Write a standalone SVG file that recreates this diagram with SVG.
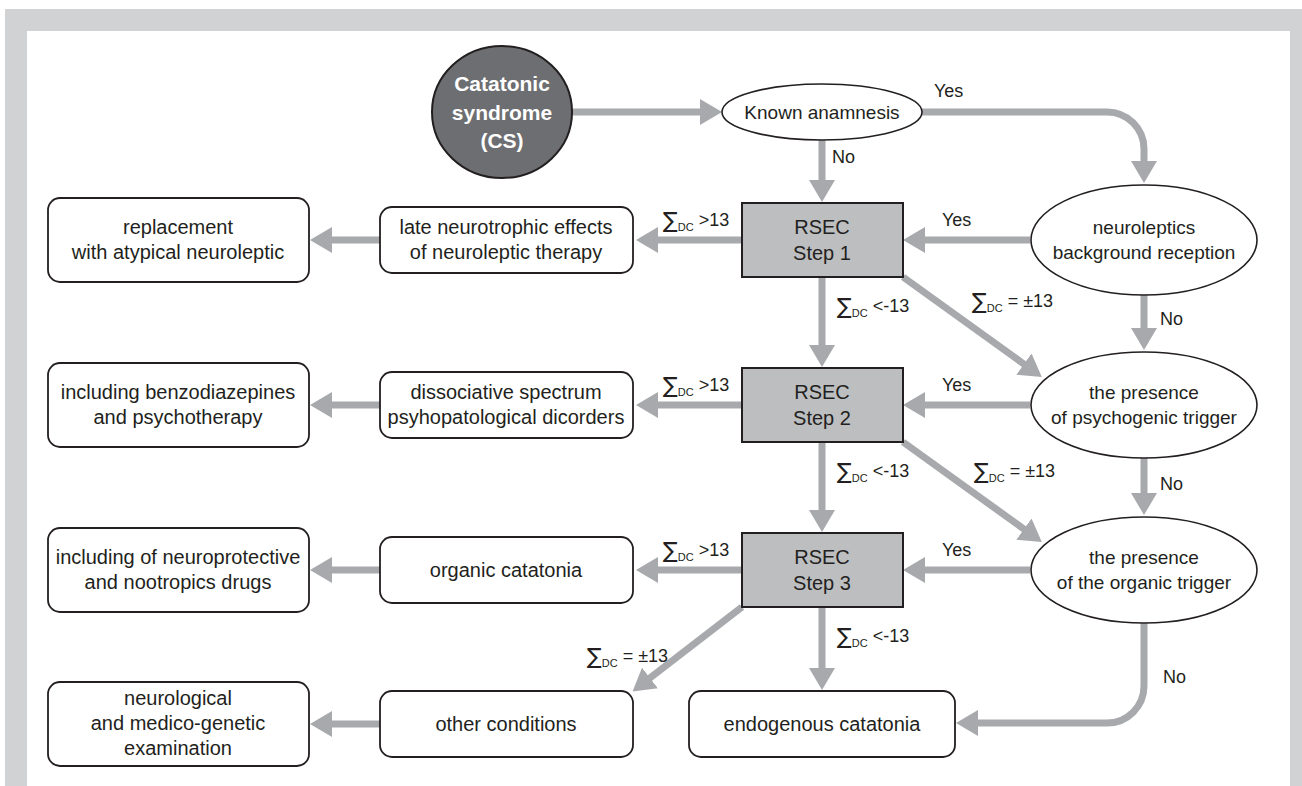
<svg xmlns="http://www.w3.org/2000/svg" width="1302" height="786" viewBox="0 0 1302 786">
<defs>
<style>
.frame{fill:#d1d2d4}
.box{fill:#fff;stroke:#231f20;stroke-width:1.8}
.rsec{fill:#bcbec0;stroke:#231f20;stroke-width:2}
.ell{fill:#fff;stroke:#231f20;stroke-width:1.6}
.cs{fill:#6d6e71;stroke:#231f20;stroke-width:2}
.t{font-family:"Liberation Sans",Arial,sans-serif;font-size:20px;fill:#231f20;text-anchor:middle}
.e{font-family:"Liberation Sans",Arial,sans-serif;font-size:19px;fill:#231f20;text-anchor:middle}
.r{font-family:"Liberation Sans",Arial,sans-serif;font-size:20px;fill:#231f20;text-anchor:middle}
.w{font-family:"Liberation Sans",Arial,sans-serif;font-size:21px;font-weight:bold;fill:#fff;text-anchor:middle}
.l{font-family:"Liberation Sans",Arial,sans-serif;font-size:18px;fill:#231f20}
.sg{font-family:"DejaVu Sans","Liberation Sans",sans-serif;font-size:22px}
.sub{font-size:11px}
.c{fill:none;stroke:#a7a9ac;stroke-width:7;marker-end:url(#ah)}
</style>
<marker id="ah" viewBox="0 0 22 26" refX="5" refY="13" markerWidth="22" markerHeight="26" markerUnits="userSpaceOnUse" orient="auto">
<path d="M0,0 L22,13 L0,26 Z" fill="#a7a9ac"/>
</marker>
</defs>
<rect width="1302" height="786" fill="#fff"/>
<rect class="frame" x="5" y="9" width="1297" height="777"/>
<rect x="27" y="31" width="1263" height="755" fill="#fff"/>

<g id="connectors">
<path class="c" d="M572,112 H705"/>
<path class="c" d="M822,140 V185"/>
<path class="c" d="M922,112 H1107 A37,37 0 0 1 1144,149 V166"/>
<path class="c" d="M1030,240 H920"/>
<path class="c" d="M742,240 H653"/>
<path class="c" d="M380,240 H327"/>
<path class="c" d="M822,277 V350"/>
<path class="c" d="M903,277 L1028,367"/>
<path class="c" d="M1144,294 V333"/>
<path class="c" d="M1030,405 H920"/>
<path class="c" d="M742,405 H653"/>
<path class="c" d="M380,405 H327"/>
<path class="c" d="M822,442 V515"/>
<path class="c" d="M903,442 L1028,532"/>
<path class="c" d="M1144,458 V498"/>
<path class="c" d="M1030,570 H920"/>
<path class="c" d="M742,570 H653"/>
<path class="c" d="M380,570 H327"/>
<path class="c" d="M742,607 L646,681"/>
<path class="c" d="M822,607 V673"/>
<path class="c" d="M1144,622 V686 A37,37 0 0 1 1107,723 H973"/>
<path class="c" d="M380,724 H327"/>
</g>

<g id="labels">
<text class="l" x="934" y="97">Yes</text>
<text class="l" x="832" y="163">No</text>
<text class="l" x="942" y="226">Yes</text>
<text class="l" x="942" y="391">Yes</text>
<text class="l" x="942" y="556">Yes</text>
<text class="l" x="1160" y="325">No</text>
<text class="l" x="1160" y="490">No</text>
<text class="l" x="1163" y="683">No</text>
<text class="l" x="663" y="226"><tspan class="sg" dy="2">∑</tspan><tspan class="sub" dy="3">DC</tspan><tspan dy="-5"> &gt;13</tspan></text>
<text class="l" x="663" y="391"><tspan class="sg" dy="2">∑</tspan><tspan class="sub" dy="3">DC</tspan><tspan dy="-5"> &gt;13</tspan></text>
<text class="l" x="663" y="556"><tspan class="sg" dy="2">∑</tspan><tspan class="sub" dy="3">DC</tspan><tspan dy="-5"> &gt;13</tspan></text>
<text class="l" x="837" y="312"><tspan class="sg" dy="2">∑</tspan><tspan class="sub" dy="3">DC</tspan><tspan dy="-5"> &lt;-13</tspan></text>
<text class="l" x="837" y="477"><tspan class="sg" dy="2">∑</tspan><tspan class="sub" dy="3">DC</tspan><tspan dy="-5"> &lt;-13</tspan></text>
<text class="l" x="837" y="642"><tspan class="sg" dy="2">∑</tspan><tspan class="sub" dy="3">DC</tspan><tspan dy="-5"> &lt;-13</tspan></text>
<text class="l" x="972" y="307"><tspan class="sg" dy="2">∑</tspan><tspan class="sub" dy="3">DC</tspan><tspan dy="-5"> = ±13</tspan></text>
<text class="l" x="974" y="477"><tspan class="sg" dy="2">∑</tspan><tspan class="sub" dy="3">DC</tspan><tspan dy="-5"> = ±13</tspan></text>
<text class="l" x="587" y="662"><tspan class="sg" dy="2">∑</tspan><tspan class="sub" dy="3">DC</tspan><tspan dy="-5"> = ±13</tspan></text>
</g>

<g id="cs">
<ellipse class="cs" cx="502" cy="112" rx="70" ry="66"/>
<text class="w" x="502" y="91">Catatonic</text>
<text class="w" x="502" y="120">syndrome</text>
<text class="w" x="502" y="148">(CS)</text>
</g>
<g id="known">
<ellipse class="ell" cx="822" cy="112" rx="100" ry="28"/>
<text class="e" x="822" y="119">Known anamnesis</text>
</g>

<g id="rsec1"><rect class="rsec" x="742" y="203" width="161" height="74"/>
<text class="r" x="822" y="234">RSEC</text><text class="r" x="822" y="260">Step 1</text></g>
<g id="rsec2"><rect class="rsec" x="742" y="368" width="161" height="74"/>
<text class="r" x="822" y="399">RSEC</text><text class="r" x="822" y="425">Step 2</text></g>
<g id="rsec3"><rect class="rsec" x="742" y="533" width="161" height="74"/>
<text class="r" x="822" y="564">RSEC</text><text class="r" x="822" y="590">Step 3</text></g>

<g id="neuroleptics"><ellipse class="ell" cx="1144" cy="240" rx="113" ry="55"/>
<text class="e" x="1144" y="234">neuroleptics</text><text class="e" x="1144" y="259">background reception</text></g>
<g id="psychogenic"><ellipse class="ell" cx="1144" cy="405" rx="113" ry="53"/>
<text class="e" x="1144" y="399">the presence</text><text class="e" x="1144" y="424">of psychogenic trigger</text></g>
<g id="organic-trigger"><ellipse class="ell" cx="1144" cy="570" rx="113" ry="53"/>
<text class="e" x="1144" y="564">the presence</text><text class="e" x="1144" y="589">of the organic trigger</text></g>

<g id="late"><rect class="box" x="380" y="207" width="253" height="66" rx="12"/>
<text class="t" x="506" y="234">late neurotrophic effects</text><text class="t" x="506" y="259">of neuroleptic therapy</text></g>
<g id="dissociative"><rect class="box" x="380" y="372" width="253" height="66" rx="12"/>
<text class="t" x="506" y="399">dissociative spectrum</text><text class="t" x="506" y="424">psyhopatological dicorders</text></g>
<g id="organic-catatonia"><rect class="box" x="380" y="537" width="253" height="66" rx="12"/>
<text class="t" x="506" y="577">organic catatonia</text></g>
<g id="other"><rect class="box" x="380" y="691" width="253" height="66" rx="12"/>
<text class="t" x="506" y="731">other conditions</text></g>
<g id="endogenous"><rect class="box" x="689" y="691" width="266" height="66" rx="12"/>
<text class="t" x="822" y="731">endogenous catatonia</text></g>

<g id="replacement"><rect class="box" x="48" y="198" width="261" height="84" rx="12"/>
<text class="t" x="178" y="234">replacement</text><text class="t" x="178" y="259">with atypical neuroleptic</text></g>
<g id="benzo"><rect class="box" x="48" y="363" width="261" height="84" rx="12"/>
<text class="t" x="178" y="399">including benzodiazepines</text><text class="t" x="178" y="424">and psychotherapy</text></g>
<g id="neuroprotective"><rect class="box" x="48" y="528" width="261" height="84" rx="12"/>
<text class="t" x="178" y="564">including of neuroprotective</text><text class="t" x="178" y="589">and nootropics drugs</text></g>
<g id="neurological"><rect class="box" x="48" y="682" width="261" height="84" rx="12"/>
<text class="t" x="178" y="705">neurological</text><text class="t" x="178" y="730">and medico-genetic</text><text class="t" x="178" y="755">examination</text></g>
</svg>
